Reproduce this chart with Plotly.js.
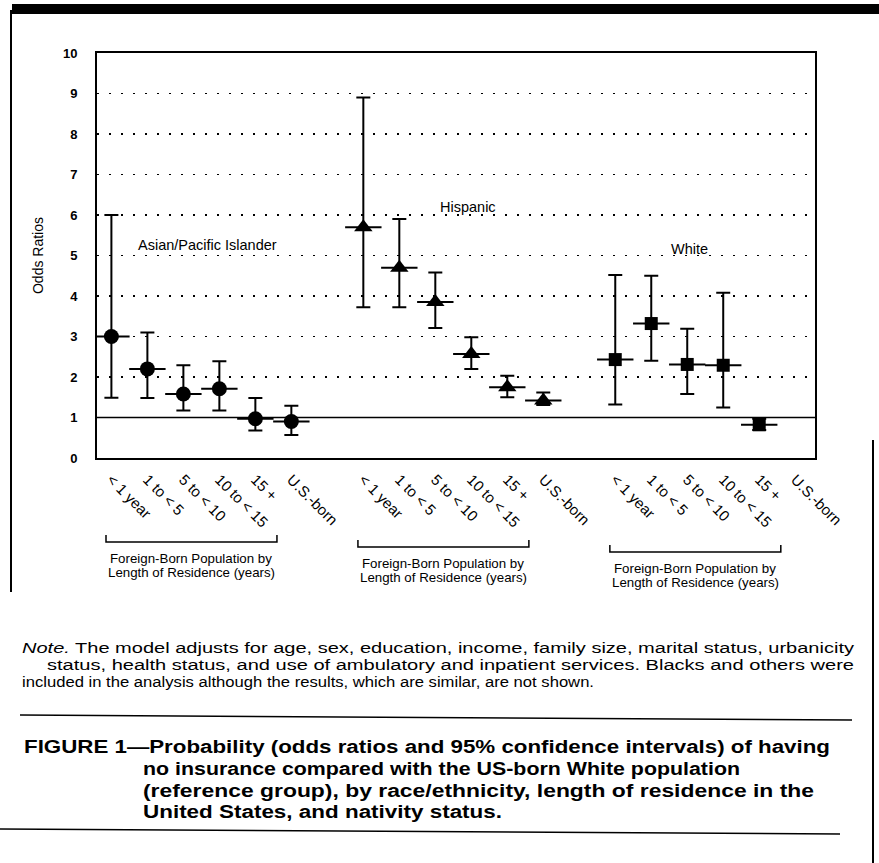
<!DOCTYPE html>
<html>
<head>
<meta charset="utf-8">
<script src="https://cdn.plot.ly/plotly-3.0.1.min.js"></script>
<style>
  html, body { margin: 0; padding: 0; background: #ffffff; }
  #chart { width: 879px; height: 863px; }
</style>
</head>
<body>
<div id="chart"></div>
<script>
// ---------------- data ----------------
const categories = ['< 1 year', '1 to < 5', '5 to < 10', '10 to < 15', '15 +', 'U.S.-born'];
const groupNames = ['Asian/Pacific Islander', 'Hispanic', 'White'];

const asianOR = [3.0, 2.2, 1.58, 1.71, 0.97, 0.9];
const asianLo = [1.49, 1.48, 1.17, 1.17, 0.68, 0.57];
const asianHi = [6.0, 3.1, 2.29, 2.39, 1.48, 1.29];

const hispOR = [5.7, 4.7, 3.85, 2.57, 1.75, 1.42];
const hispLo = [3.72, 3.72, 3.21, 2.2, 1.5, 1.31];
const hispHi = [8.9, 5.9, 4.58, 2.98, 2.03, 1.62];

const whiteOR = [2.43, 3.32, 2.31, 2.29, 0.82, null];
const whiteLo = [1.32, 2.4, 1.58, 1.25, 0.69, null];
const whiteHi = [4.52, 4.5, 3.19, 4.08, 0.97, null];

const yTicks = [0, 1, 2, 3, 4, 5, 6, 7, 8, 9, 10];
const bracketLabel = ['Foreign-Born Population by', 'Length of Residence (years)'];

const noteLines = [
  '<i>Note.</i> The model adjusts for age, sex, education, income, family size, marital status, urbanicity',
  'status, health status, and use of ambulatory and inpatient services. Blacks and others were',
  'included in the analysis although the results, which are similar, are not shown.'
];
const captionLines = [
  'FIGURE 1\u2014Probability (odds ratios and 95% confidence intervals) of having',
  'no insurance compared with the US-born White population',
  '(reference group), by race/ethnicity, length of residence in the',
  'United States, and nativity status.'
];

// ---------------- geometry helpers ----------------
const groupStart = [0, 7, 14];
const PL = 97, PR = 815, PT = 53, PB = 458;
const px = X => (X - PL) / (PR - PL);
const py = Y => (PB - Y) / (PB - PT);

const FONT = 'Liberation Sans, Arial, Helvetica, sans-serif';

function xs(g) { return categories.map((c, i) => groupStart[g] + i); }
function errs(or, lo, hi) {
  return {
    type: 'data', symmetric: false,
    array: or.map((v, i) => v == null ? null : hi[i] - v),
    arrayminus: or.map((v, i) => v == null ? null : v - lo[i]),
    color: '#000', thickness: 2, width: 7
  };
}

const series = [
  {or: asianOR, lo: asianLo, hi: asianHi, sym: 'circle', size: 15},
  {or: hispOR, lo: hispLo, hi: hispHi, sym: 'triangle-up', size: 16},
  {or: whiteOR, lo: whiteLo, hi: whiteHi, sym: 'square', size: 13}
];

const traces = [];
series.forEach((s, g) => {
  traces.push({
    type: 'scatter', mode: 'markers', x: xs(g), y: s.or, name: groupNames[g],
    marker: {symbol: s.sym, size: s.size, color: '#000'},
    error_y: errs(s.or, s.lo, s.hi), showlegend: false, hoverinfo: 'x+y'
  });
  traces.push({
    type: 'scatter', mode: 'markers', x: xs(g), y: s.or, showlegend: false, hoverinfo: 'skip',
    marker: {symbol: 'line-ew', size: 26, color: '#000', line: {width: 2, color: '#000'}}
  });
});

// tick positions/labels
const tickvals = [], ticktext = [];
groupStart.forEach((g0, g) => categories.forEach((c, i) => { tickvals.push(g0 + i); ticktext.push(c); }));

// ---------------- shapes ----------------
const shapes = [];
// reference line at OR = 1
shapes.push({type: 'line', xref: 'paper', yref: 'y', x0: 0, x1: 1, y0: 1, y1: 1, line: {color: '#000', width: 1.5}});
// brackets
const bracketY = [542, 547, 552];
groupStart.forEach((g0, g) => {
  const yb = py(bracketY[g]), yt = py(bracketY[g] - 7);
  const xa = g0 - 0.15, xb = g0 + 4.6;
  shapes.push({type: 'path', xref: 'x', yref: 'paper',
    path: `M ${xa},${yt} L ${xa},${yb} L ${xb},${yb} L ${xb},${yt}`,
    line: {color: '#000', width: 1.5}});
});
// page rules and borders
shapes.push({type: 'rect', xref: 'paper', yref: 'paper', x0: px(12), x1: px(879), y0: py(14), y1: py(4), fillcolor: '#000', line: {width: 0}});
shapes.push({type: 'line', xref: 'paper', yref: 'paper', x0: px(11), x1: px(11), y0: py(10), y1: py(592), line: {color: '#000', width: 2}});
shapes.push({type: 'line', xref: 'paper', yref: 'paper', x0: px(873), x1: px(873), y0: py(440), y1: py(863), line: {color: '#000', width: 2}});
shapes.push({type: 'line', xref: 'paper', yref: 'paper', x0: px(20), x1: px(852), y0: py(715), y1: py(720), line: {color: '#000', width: 1.5}});
shapes.push({type: 'line', xref: 'paper', yref: 'paper', x0: px(0), x1: px(840), y0: py(829), y1: py(834), line: {color: '#000', width: 1.5}});

// ---------------- annotations ----------------
const annotations = [];
const labelFont = {size: 14.5, family: FONT, color: '#000'};
annotations.push({xref: 'x', yref: 'y', x: 2.67, y: 5.25, text: groupNames[0], showarrow: false, font: labelFont});
annotations.push({xref: 'x', yref: 'y', x: 9.9, y: 6.2, text: groupNames[1], showarrow: false, font: labelFont});
annotations.push({xref: 'x', yref: 'y', x: 16.05, y: 5.17, text: groupNames[2], showarrow: false, font: labelFont});

const bracketTextY = [558, 563, 568];
groupStart.forEach((g0, g) => {
  bracketLabel.forEach((t, j) => {
    annotations.push({xref: 'x', yref: 'paper', x: g0 + 2.22, y: py(bracketTextY[g] + 14 * j),
      xanchor: 'center', yanchor: 'middle', text: t,
      showarrow: false, align: 'center', font: {size: 13.3, family: FONT, color: '#000'}});
  });
});

const stretch = []; // [annotation index, target width]
const noteX = [20, 45, 20], noteW = [832, 807, 572], noteY = [647, 664, 681];
noteLines.forEach((t, i) => {
  stretch.push([annotations.length, noteW[i]]);
  annotations.push({xref: 'paper', yref: 'paper', x: px(noteX[i]), y: py(noteY[i]), xanchor: 'left', yanchor: 'middle',
    align: 'left', text: t, showarrow: false, font: {size: 15.5, family: FONT, color: '#000'}});
});
const capX = [22, 141, 141, 141], capW = [806, 597, 671, 359], capY = [747, 769, 791, 812];
captionLines.forEach((t, i) => {
  stretch.push([annotations.length, capW[i]]);
  annotations.push({xref: 'paper', yref: 'paper', x: px(capX[i]), y: py(capY[i]), xanchor: 'left', yanchor: 'middle',
    align: 'left', text: '<b>' + t + '</b>', showarrow: false, font: {size: 18, family: FONT, color: '#000'}});
});

// ---------------- layout ----------------
const layout = {
  width: 879, height: 863,
  margin: {l: PL, r: 879 - PR, t: PT, b: 863 - PB, pad: 0},
  paper_bgcolor: '#fff', plot_bgcolor: '#fff',
  font: {family: FONT, color: '#000'},
  showlegend: false,
  xaxis: {
    range: [-0.4, 19.55], tickvals: tickvals, ticktext: ticktext, tickangle: 45,
    showline: true, mirror: true, linecolor: '#000', linewidth: 2,
    showgrid: false, zeroline: false, ticks: '', ticklabelstandoff: 5,
    tickfont: {size: 15, family: FONT, color: '#000'}, fixedrange: true
  },
  yaxis: {
    range: [0, 10], tickvals: yTicks, ticktext: yTicks.map(String),
    showline: true, mirror: true, linecolor: '#000', linewidth: 2,
    showgrid: true, gridcolor: '#000', gridwidth: 1.5, griddash: '2px,10px',
    zeroline: false, ticks: '', ticklabelstandoff: 15,
    tickfont: {size: 13, family: FONT, color: '#000', weight: 'bold'},
    title: {text: 'Odds Ratios', font: {size: 14, family: FONT, color: '#000'}, standoff: 16},
    fixedrange: true
  },
  shapes: shapes,
  annotations: annotations
};

Plotly.newPlot('chart', traces, layout, {displayModeBar: false, staticPlot: true}).then(gd => {
  stretch.forEach(([idx, w]) => {
    const t = gd.querySelector('.annotation[data-index="' + idx + '"] text.annotation-text');
    if (t) { t.setAttribute('textLength', w); t.setAttribute('lengthAdjust', 'spacingAndGlyphs'); }
  });
});
</script>
</body>
</html>
